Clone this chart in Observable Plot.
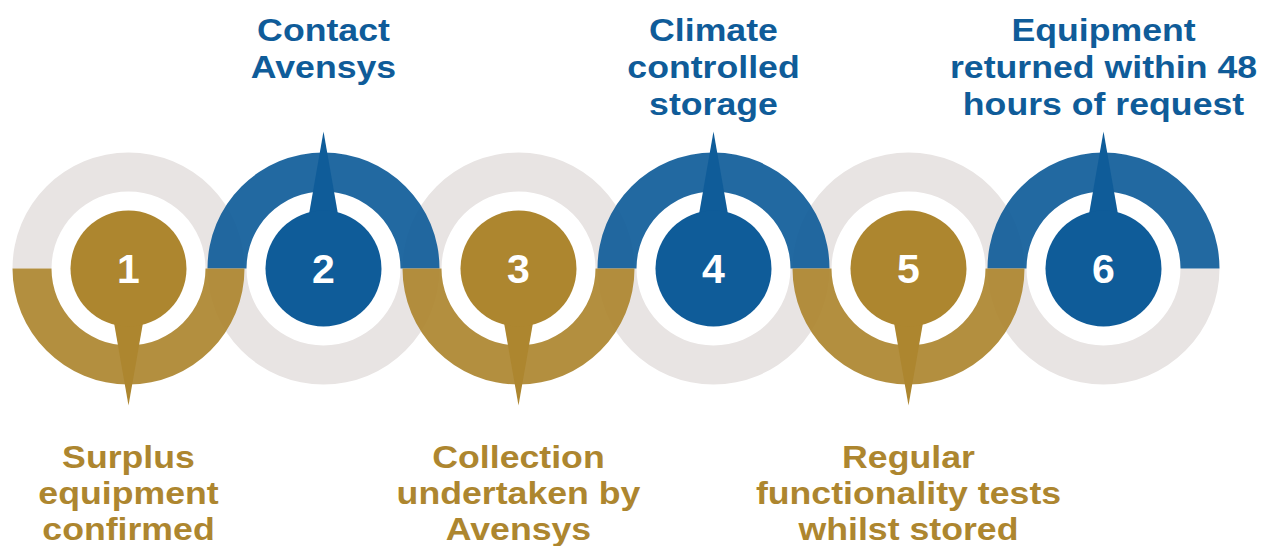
<!DOCTYPE html>
<html>
<head>
<meta charset="utf-8">
<script src="https://cdn.jsdelivr.net/npm/d3@7"></script>
<script src="https://cdn.jsdelivr.net/npm/@observablehq/plot@0.6"></script>
<style>
  html, body { margin: 0; padding: 0; background: #ffffff; }
  #chart svg { display: block; }
</style>
</head>
<body>
<div id="chart"></div>
<script>
// ---- data ----
const steps = [1, 2, 3, 4, 5, 6];
const stepGroup = ["lower", "upper", "lower", "upper", "lower", "upper"];
const stepLabels = [
  "Surplus\nequipment\nconfirmed",
  "Contact\nAvensys",
  "Collection\nundertaken by\nAvensys",
  "Climate\ncontrolled\nstorage",
  "Regular\nfunctionality tests\nwhilst stored",
  "Equipment\nreturned within 48\nhours of request"
];

const data = steps.map((s, i) => ({
  step: s,
  side: stepGroup[i],
  label: stepLabels[i]
}));

// ---- symbols ----
const INNER = 77 / 116;
function halfRing(top) {
  return {
    draw(ctx, size) {
      const R = Math.sqrt(size / Math.PI);
      const r = R * INNER;
      if (top) {
        ctx.moveTo(-R, 0);
        ctx.arc(0, 0, R, Math.PI, 2 * Math.PI);
        ctx.lineTo(r, 0);
        ctx.arc(0, 0, r, 0, Math.PI, true);
      } else {
        ctx.moveTo(R, 0);
        ctx.arc(0, 0, R, 0, Math.PI);
        ctx.lineTo(-r, 0);
        ctx.arc(0, 0, r, Math.PI, 0, true);
      }
      ctx.closePath();
    }
  };
}
function pointer(top) {
  return {
    draw(ctx, size) {
      const L = Math.sqrt(size / Math.PI);
      const w = L * 24 / 137;
      const d = top ? -1 : 1;
      ctx.moveTo(-w, 0);
      ctx.lineTo(w, 0);
      ctx.lineTo(0, d * L);
      ctx.closePath();
    }
  };
}

const cy = 268;
const font = "'Liberation Sans', Arial, Helvetica, sans-serif";
const upper = data.filter(d => d.side === "upper");
const lower = data.filter(d => d.side === "lower");

const chart = Plot.plot({
  width: 1268,
  height: 546,
  margin: 0,
  x: { domain: [1, 6], range: [128, 1103], axis: null },
  y: { domain: [0, 546], range: [0, 546], axis: null },
  color: { domain: ["lower", "upper"], range: ["#AD862F", "#0F5C99"] },
  style: { background: "#ffffff", fontFamily: font },
  marks: [
    // grey half rings (opposite side of the coloured half)
    Plot.dot(lower, { x: "step", y: () => cy, r: 116, symbol: halfRing(true), fill: "#E8E4E3" }),
    Plot.dot(upper, { x: "step", y: () => cy, r: 116, symbol: halfRing(false), fill: "#E8E4E3" }),
    // coloured half rings
    Plot.dot(upper, { x: "step", y: () => cy, r: 116, symbol: halfRing(true), fill: "side", fillOpacity: 0.92 }),
    Plot.dot(lower, { x: "step", y: () => cy, r: 116, symbol: halfRing(false), fill: "side", fillOpacity: 0.92 }),
    // pointers
    Plot.dot(upper, { x: "step", y: () => cy, r: 137, symbol: pointer(true), fill: "side" }),
    Plot.dot(lower, { x: "step", y: () => cy, r: 137, symbol: pointer(false), fill: "side" }),
    // discs
    Plot.dot(data, { x: "step", y: () => cy, r: 58, fill: "side" }),
    // numbers
    Plot.text(data, {
      x: "step", y: () => cy + 1, text: d => String(d.step),
      fill: "white", fontSize: 41, fontWeight: "bold", lineAnchor: "middle", fontFamily: font
    }),
    // labels above
    Plot.text(upper, {
      x: "step", y: () => 14, text: "label", fill: "side",
      fontSize: 32, fontWeight: "bold", lineAnchor: "top", lineHeight: 1.16, fontFamily: font
    }),
    // labels below
    Plot.text(lower, {
      x: "step", y: () => 442, text: "label", fill: "side",
      fontSize: 32, fontWeight: "bold", lineAnchor: "top", lineHeight: 1.13, fontFamily: font
    })
  ]
});

// widen the label glyphs horizontally to match the reference's lettering
chart.querySelectorAll("g[font-size='32'] text").forEach(t => {
  const tr = t.getAttribute("transform") || "";
  t.setAttribute("transform", tr + " scale(1.115,1)");
});

document.getElementById("chart").appendChild(chart);
</script>
</body>
</html>
